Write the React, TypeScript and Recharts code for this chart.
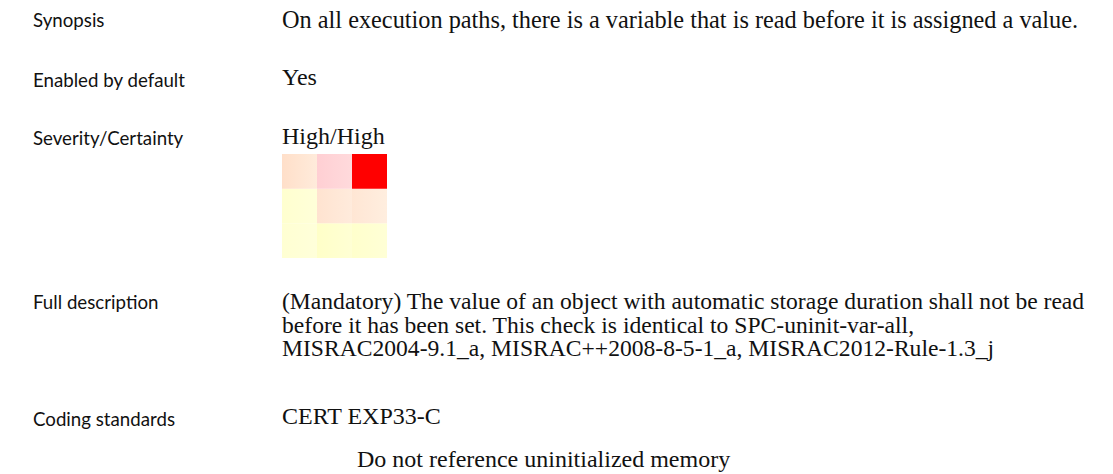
import React from 'react';
import { BarChart, Bar, Cell, XAxis, YAxis } from 'recharts';

// Certainty runs along the columns, severity stacks up the rows (Low at the bottom)
const certaintyLevels = ['Low', 'Medium', 'High'];
const lowSeverity = [1, 1, 1];
const mediumSeverity = [1, 1, 1];
const highSeverity = [1, 1, 1];

// [from, to] colour pairs per cell, left to right
const lowColors = [['#FFFFD2', '#FFFFDA'], ['#FFFFC8', '#FFFFD4'], ['#FFFFCC', '#FFFFD6']];
const mediumColors = [['#FFFFCF', '#FFFFD9'], ['#FFE3D0', '#FFEBDC'], ['#FFE6D4', '#FFEEDF']];
const highColors = [['#FFDFC9', '#FFEBDB'], ['#FFCFD3', '#FFDADC'], ['#FF0000', '#FF0000']];

const rows = [
  { key: 'low', colors: lowColors },
  { key: 'medium', colors: mediumColors },
  { key: 'high', colors: highColors },
];

const chartData = certaintyLevels.map((certainty, i) => ({
  certainty,
  low: lowSeverity[i],
  medium: mediumSeverity[i],
  high: highSeverity[i],
}));

const serif = '"Liberation Serif", "Times New Roman", serif';
const sans = 'Lato, "Open Sans", sans-serif';

const labelStyle: React.CSSProperties = {
  position: 'absolute',
  left: 33,
  fontFamily: sans,
  fontSize: 18.7,
  lineHeight: '22px',
  color: '#111',
  whiteSpace: 'nowrap',
};

const valueStyle: React.CSSProperties = {
  position: 'absolute',
  left: 282,
  fontFamily: serif,
  fontSize: 24,
  lineHeight: '23.5px',
  color: '#111',
  whiteSpace: 'nowrap',
};

const RiskMatrix: React.FC = () => (
  <BarChart
    width={105}
    height={104}
    data={chartData}
    margin={{ top: 0, right: 0, bottom: 0, left: 0 }}
    barCategoryGap={0}
  >
    <defs>
      {rows.map(row =>
        row.colors.map((pair, i) => (
          <linearGradient key={`${row.key}${i}`} id={`g-${row.key}-${i}`} x1="0" y1="0" x2="1" y2="0">
            <stop offset="0%" stopColor={pair[0]} />
            <stop offset="100%" stopColor={pair[1]} />
          </linearGradient>
        ))
      )}
    </defs>
    <XAxis dataKey="certainty" hide />
    <YAxis hide domain={[0, 3]} />
    {rows.map(row => (
      <Bar key={row.key} dataKey={row.key} stackId="m" isAnimationActive={false}>
        {chartData.map((_, i) => (
          <Cell key={i} fill={`url(#g-${row.key}-${i})`} />
        ))}
      </Bar>
    ))}
  </BarChart>
);

export default function App() {
  return (
    <div style={{ position: 'absolute', left: 0, top: 0, width: 1113, height: 474, background: '#fff', overflow: 'hidden' }}>
      <div style={{ ...labelStyle, top: 9 }}>Synopsis</div>
      <div style={{ ...valueStyle, top: 8, fontSize: 24.3 }}>
        On all execution paths, there is a variable that is read before it is assigned a value.
      </div>

      <div style={{ ...labelStyle, top: 69 }}>Enabled by default</div>
      <div style={{ ...valueStyle, top: 66 }}>Yes</div>

      <div style={{ ...labelStyle, top: 127 }}>Severity/Certainty</div>
      <div style={{ ...valueStyle, top: 125 }}>High/High</div>
      <div style={{ position: 'absolute', left: 282, top: 154 }}>
        <RiskMatrix />
      </div>

      <div style={{ ...labelStyle, top: 291 }}>Full description</div>
      <div style={{ ...valueStyle, top: 290, fontSize: 23.6 }}>
        (Mandatory) The value of an object with automatic storage duration shall not be read
        <br />
        before it has been set. This check is identical to SPC-uninit-var-all,
        <br />
        MISRAC2004-9.1_a, MISRAC++2008-8-5-1_a, MISRAC2012-Rule-1.3_j
      </div>

      <div style={{ ...labelStyle, top: 408 }}>Coding standards</div>
      <div style={{ ...valueStyle, top: 405 }}>CERT EXP33-C</div>
      <div style={{ ...valueStyle, left: 357, top: 448 }}>Do not reference uninitialized memory</div>
    </div>
  );
}
